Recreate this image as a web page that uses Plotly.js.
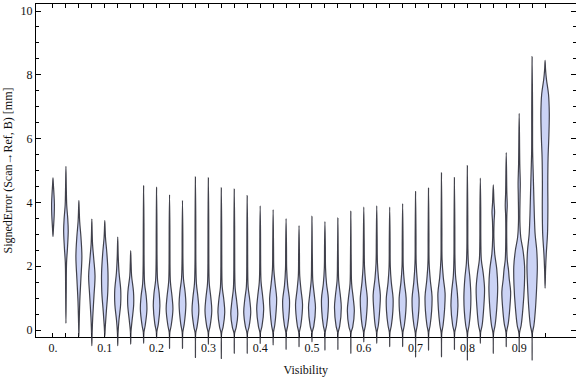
<!DOCTYPE html>
<html><head><meta charset="utf-8">
<script src="https://cdn.plot.ly/plotly-3.0.1.min.js"></script>
<style>html,body{margin:0;padding:0;background:#fff}</style>
</head><body><div id="chart" style="width:576px;height:377px"></div>
<script>
// Category positions (Visibility)
const visibility = [0,0.025,0.05,0.075,0.1,0.125,0.15,0.175,0.2,0.225,0.25,0.275,0.3,0.325,0.35,0.375,0.4,0.425,0.45,0.475,0.5,0.525,0.55,0.575,0.6,0.625,0.65,0.675,0.7,0.725,0.75,0.775,0.8,0.825,0.85,0.875,0.9,0.925,0.95];
const xTickText = ["0.","","","","0.1","","","","0.2","","","","0.3","","","","0.4","","","","0.5","","","","0.6","","","","0.7","","","","0.8","","","","0.9","",""];
const yTickVals = [0,2,4,6,8,10];
const yTickText = ["0","2","4","6","8","10"];
// Density profiles: [signed error (mm), relative density]
const profiles = [
 [[2.93,0],[3.2,0.5],[3.6,1.2],[3.95,1.4],[4.3,0.9],[4.55,0.4],[4.77,0]],
 [[0.21,0],[1.2,0.3],[2.1,0.6],[2.6,1.6],[3.1,2.3],[3.5,1.8],[3.9,0.8],[4.4,0.4],[5.13,0]],
 [[-0.2,0],[0.2,0.3],[0.9,0.9],[1.6,2.0],[2.3,3.0],[2.9,2.1],[3.4,0.8],[3.8,0.3],[4.06,0]],
 [[-0.49,0],[-0.1,0.3],[0.4,0.9],[1.1,2.2],[1.7,3.2],[2.2,2.0],[2.7,0.7],[3.1,0.3],[3.48,0]],
 [[-0.2,0],[0.1,0.5],[0.6,1.6],[1.2,3.0],[1.8,3.2],[2.4,2.1],[2.9,0.7],[3.2,0.3],[3.43,0]],
 [[-0.49,0],[-0.1,0.3],[0.3,1.2],[0.8,2.9],[1.25,3.0],[1.8,1.3],[2.3,0.5],[2.91,0]],
 [[-0.44,0],[-0.05,0.3],[0.3,1.4],[0.8,3.0],[1.2,2.8],[1.7,0.9],[2.1,0.4],[2.49,0]],
 [[-0.42,0],[-0.08,0.3],[0.15,1.6],[0.65,3.3],[1.05,2.6],[1.45,1.0],[2.0,0.5],[3.2,0.35],[4.52,0]],
 [[-0.25,0],[-0.05,0.3],[0.2,1.8],[0.75,3.3],[1.15,2.6],[1.55,1.0],[2.1,0.5],[3.2,0.35],[4.47,0]],
 [[-0.58,0],[-0.08,0.3],[0.15,1.7],[0.65,3.4],[1.05,2.5],[1.5,0.9],[2.1,0.45],[3.2,0.35],[4.24,0]],
 [[-0.58,0],[-0.08,0.3],[0.2,1.8],[0.8,3.4],[1.2,2.6],[1.6,1.0],[2.2,0.45],[3.0,0.35],[4.06,0]],
 [[-0.86,0],[-0.1,0.3],[0.1,1.6],[0.6,3.4],[1.0,2.6],[1.45,1.0],[2.1,0.45],[3.4,0.35],[4.8,0]],
 [[-0.45,0],[-0.08,0.3],[0.12,1.7],[0.6,3.4],[1.0,2.5],[1.45,0.9],[2.1,0.45],[3.4,0.35],[4.77,0]],
 [[-0.89,0],[-0.1,0.3],[0.1,1.8],[0.55,3.4],[0.95,2.5],[1.35,0.9],[2.0,0.45],[3.2,0.35],[4.46,0]],
 [[-0.73,0],[-0.1,0.3],[0.08,1.9],[0.5,3.5],[0.9,2.4],[1.3,0.9],[1.9,0.45],[3.2,0.35],[4.42,0]],
 [[-0.73,0],[-0.1,0.3],[0.1,1.8],[0.55,3.5],[0.95,2.5],[1.35,0.9],[2.0,0.45],[3.0,0.35],[4.21,0]],
 [[-0.42,0],[-0.08,0.3],[0.12,1.8],[0.65,3.5],[1.05,2.5],[1.5,0.9],[2.1,0.45],[3.0,0.35],[3.89,0]],
 [[-0.47,0],[-0.08,0.3],[0.15,1.6],[0.6,3.0],[1.0,3.5],[1.45,2.0],[1.9,0.7],[2.6,0.4],[3.77,0]],
 [[-0.61,0],[-0.08,0.3],[0.15,1.7],[0.6,3.2],[0.95,3.4],[1.4,1.6],[1.9,0.6],[2.6,0.4],[3.49,0]],
 [[-0.52,0],[-0.08,0.3],[0.15,1.8],[0.8,3.5],[1.25,2.0],[1.7,0.7],[2.4,0.4],[3.27,0]],
 [[-0.37,0],[-0.07,0.3],[0.12,1.8],[0.7,3.5],[1.1,2.3],[1.55,0.8],[2.2,0.4],[3.56,0]],
 [[-0.63,0],[-0.08,0.3],[0.15,1.7],[0.6,3.2],[1.0,3.4],[1.45,1.6],[1.95,0.6],[2.6,0.4],[3.40,0]],
 [[-0.61,0],[-0.08,0.3],[0.12,1.8],[0.7,3.4],[1.1,2.4],[1.55,0.8],[2.2,0.4],[3.51,0]],
 [[-0.73,0],[-0.08,0.3],[0.1,1.9],[0.6,3.5],[1.0,2.4],[1.45,0.8],[2.1,0.4],[3.72,0]],
 [[-0.37,0],[-0.07,0.3],[0.15,1.7],[0.6,3.1],[1.0,3.5],[1.5,1.8],[2.0,0.7],[2.8,0.4],[3.85,0]],
 [[-0.42,0],[-0.07,0.3],[0.15,1.6],[0.65,3.0],[1.1,3.6],[1.6,1.8],[2.1,0.7],[2.9,0.4],[3.89,0]],
 [[-0.52,0],[-0.08,0.3],[0.15,1.7],[0.6,3.2],[1.0,3.4],[1.5,1.6],[2.0,0.6],[2.8,0.4],[3.85,0]],
 [[-0.52,0],[-0.08,0.3],[0.15,1.7],[0.6,3.2],[1.0,3.5],[1.5,1.7],[2.0,0.6],[2.8,0.4],[3.96,0]],
 [[-0.84,0],[-0.1,0.3],[0.15,1.7],[0.6,3.2],[1.0,3.5],[1.5,1.8],[2.1,0.6],[3.0,0.4],[4.34,0]],
 [[-0.63,0],[-0.08,0.3],[0.15,1.6],[0.6,3.1],[1.05,3.5],[1.55,1.8],[2.1,0.6],[3.0,0.4],[4.45,0]],
 [[-0.84,0],[-0.1,0.3],[0.15,1.6],[0.65,3.1],[1.15,3.6],[1.65,1.8],[2.2,0.6],[3.2,0.4],[4.93,0]],
 [[-0.61,0],[-0.08,0.3],[0.15,1.8],[0.75,3.5],[1.2,2.8],[1.7,1.1],[2.3,0.5],[3.2,0.4],[4.78,0]],
 [[-0.94,0],[-0.1,0.3],[0.15,1.7],[0.6,3.1],[1.05,3.5],[1.6,2.6],[2.1,1.0],[2.6,0.5],[3.6,0.4],[5.15,0]],
 [[-0.42,0],[-0.08,0.3],[0.15,1.8],[0.7,3.4],[1.3,4.2],[1.8,2.8],[2.2,1.0],[2.8,0.5],[3.8,0.4],[4.76,0]],
 [[-0.73,0],[-0.1,0.3],[0.15,1.8],[0.7,3.5],[1.35,4.4],[1.9,3.5],[2.4,1.4],[2.9,0.6],[3.4,0.8],[3.7,1.3],[4.0,0.7],[4.55,0]],
 [[-0.52,0],[-0.08,0.3],[0.2,2.0],[0.7,3.6],[1.2,4.4],[1.6,3.0],[1.9,2.2],[2.2,1.0],[2.8,0.5],[3.6,0.6],[3.9,1.0],[4.3,0.6],[5.56,0]],
 [[-0.68,0],[-0.1,0.3],[0.15,2.0],[0.7,3.8],[1.4,5.2],[2.0,5.4],[2.5,3.8],[2.9,1.6],[3.4,0.7],[4.2,0.9],[4.6,1.1],[5.2,0.6],[6.79,0]],
 [[-0.94,0],[-0.1,0.3],[0.15,1.8],[0.7,3.4],[1.4,4.6],[2.0,5.2],[2.5,4.6],[3.0,3.0],[3.6,2.2],[4.3,1.6],[5.0,1.0],[5.6,0.5],[7.0,0.4],[8.57,0]],
 [[1.31,0],[1.9,0.5],[2.4,1.2],[3.0,2.4],[3.8,2.8],[4.6,2.7],[5.4,3.0],[6.1,3.8],[6.8,4.2],[7.4,3.4],[7.85,1.4],[8.15,0.5],[8.45,0]]
];

// Frame geometry (pixels) and axis ranges
const W = 576, H = 377;
const frame = {l: 36, r: 575.5, t: 4.3, b: 336.7};
const violinBottomPx = 372;
const xRange = [-0.0328, 1.0087];
const yRange = [-0.21, 10.21];
const pxPerY = (frame.b - frame.t) / (yRange[1] - yRange[0]);
const y2Range = [yRange[0] - (violinBottomPx - frame.b) / pxPerY, yRange[1]];
const xPerPx = (xRange[1] - xRange[0]) / (frame.r - frame.l);
const xDomain = [frame.l / W, frame.r / W];

const traces = visibility.map((xc, i) => {
  const p = profiles[i];
  const xs = [], ys = [];
  p.forEach(([y, w]) => { xs.push(xc + w * xPerPx); ys.push(y); });
  for (let k = p.length - 2; k >= 0; k--) { xs.push(xc - p[k][1] * xPerPx); ys.push(p[k][0]); }
  return {
    type: 'scatter', mode: 'lines', x: xs, y: ys, xaxis: 'x2', yaxis: 'y2',
    fill: 'toself', fillcolor: 'rgb(203,211,245)',
    line: {color: 'rgba(35,35,45,0.85)', width: 1.2, shape: 'spline', smoothing: 1},
    hoverinfo: 'skip', showlegend: false
  };
});
// invisible anchor trace so the framed axes get drawn
traces.unshift({type: 'scatter', mode: 'markers', x: [visibility[0]], y: [yTickVals[0]], xaxis: 'x', yaxis: 'y',
  marker: {opacity: 0}, hoverinfo: 'skip', showlegend: false});

const font = {family: 'Liberation Serif', size: 12, color: '#111'};
const layout = {
  width: W, height: H, margin: {l: 0, r: 0, t: 0, b: 0},
  paper_bgcolor: '#fff', plot_bgcolor: 'rgba(0,0,0,0)', showlegend: false,
  font: font,
  xaxis: {domain: xDomain, range: xRange, anchor: 'y', showline: true, linecolor: '#000', linewidth: 1,
    mirror: 'ticks', ticks: 'inside', ticklen: 4, tickcolor: '#000', tickwidth: 1,
    tickmode: 'array', tickvals: visibility, ticktext: xTickText, tickfont: font,
    showgrid: false, zeroline: false, fixedrange: true,
    title: {text: 'Visibility', font: font, standoff: 12}},
  yaxis: {domain: [1 - frame.b / H, 1 - frame.t / H], range: yRange, anchor: 'x', showline: true,
    linecolor: '#000', linewidth: 1, mirror: 'ticks', ticks: 'inside', ticklen: 4.5, tickcolor: '#000',
    tickmode: 'array', tickvals: yTickVals, ticktext: yTickText, tickfont: font,
    minor: {dtick: 0.5, tick0: 0, ticks: 'inside', ticklen: 2.5, tickcolor: '#000', showgrid: false},
    showgrid: false, zeroline: false, fixedrange: true,
    title: {text: 'SignedError (Scan→Ref, B) [mm]', font: font, standoff: 5}},
  xaxis2: {domain: xDomain, range: xRange, anchor: 'y2', visible: false, fixedrange: true},
  yaxis2: {domain: [1 - violinBottomPx / H, 1 - frame.t / H], range: y2Range, anchor: 'x2', visible: false, fixedrange: true}
};
Plotly.newPlot('chart', traces, layout, {staticPlot: true, displayModeBar: false});
</script></body></html>
